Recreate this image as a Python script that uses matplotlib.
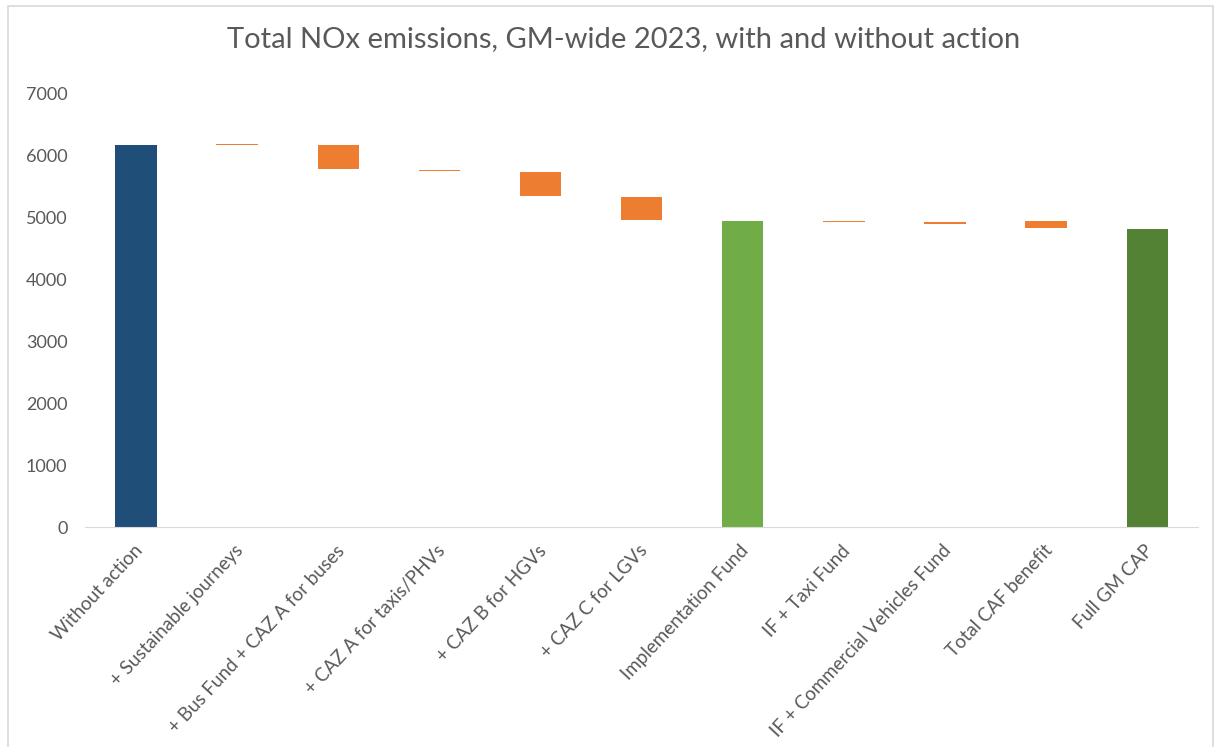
import matplotlib.pyplot as plt
from matplotlib.patches import Rectangle
from matplotlib.transforms import ScaledTranslation

# Categories along the x axis
categories = ['Without action', '+ Sustainable journeys', '+ Bus Fund + CAZ A for buses',
              '+ CAZ A for taxis/PHVs', '+ CAZ B for HGVs', '+ CAZ C for LGVs',
              'Implementation Fund', 'IF + Taxi Fund', 'IF + Commercial Vehicles Fund',
              'Total CAF benefit', 'Full GM CAP']

# Floating bar ranges (NOx): lower and upper value per bar
bar_low = [0, 6160, 5775, 5740, 5335, 4950, 0, 4915, 4880, 4815, 0]
bar_high = [6160, 6185, 6160, 5765, 5730, 5320, 4940, 4935, 4925, 4940, 4805]

colors = ['#1F4E79', '#ED7D31', '#ED7D31', '#ED7D31', '#ED7D31', '#ED7D31',
          '#70AD47', '#ED7D31', '#ED7D31', '#ED7D31', '#548235']

plt.rcParams['font.family'] = ['Lato', 'DejaVu Sans']
grey = '#595959'

fig = plt.figure(figsize=(12.21, 7.47), dpi=100)
ax = fig.add_axes([0.070, 0.2945, 0.911, 0.581])

x = list(range(len(categories)))
heights = [h - l for l, h in zip(bar_low, bar_high)]
ax.bar(x, heights, bottom=bar_low, width=0.41, color=colors)

ax.set_xlim(-0.5, len(categories) - 0.5)
ax.set_ylim(0, 7000)
ax.set_yticks(range(0, 7001, 1000))
ax.set_xticks(x)
ax.set_xticklabels([])

# rotated category labels, top-right corner hung just under each tick
offset = ScaledTranslation(-3 / 100, -15 / 100, fig.dpi_scale_trans)
for i, name in enumerate(categories):
    ax.text(i, 0, name, transform=ax.get_xaxis_transform() + offset,
            rotation=47, rotation_mode='anchor', ha='right', va='top',
            fontsize=13.5, color=grey)

for s in ['top', 'right', 'left']:
    ax.spines[s].set_visible(False)
ax.spines['bottom'].set_color('#D9D9D9')
ax.tick_params(axis='both', length=0, colors=grey, labelsize=13)
ax.tick_params(axis='y', pad=13)

fig.suptitle('Total NOx emissions, GM-wide 2023, with and without action',
             x=0.511, y=0.965, fontsize=21, color=grey)

# Chart border
fig.patches.append(Rectangle((8 / 1221, -0.01), 1205 / 1221, 1 - 6 / 747 + 0.01,
                             transform=fig.transFigure, fill=False,
                             edgecolor='#D9D9D9', linewidth=1.2))

fig.savefig('out.png', dpi=100)
